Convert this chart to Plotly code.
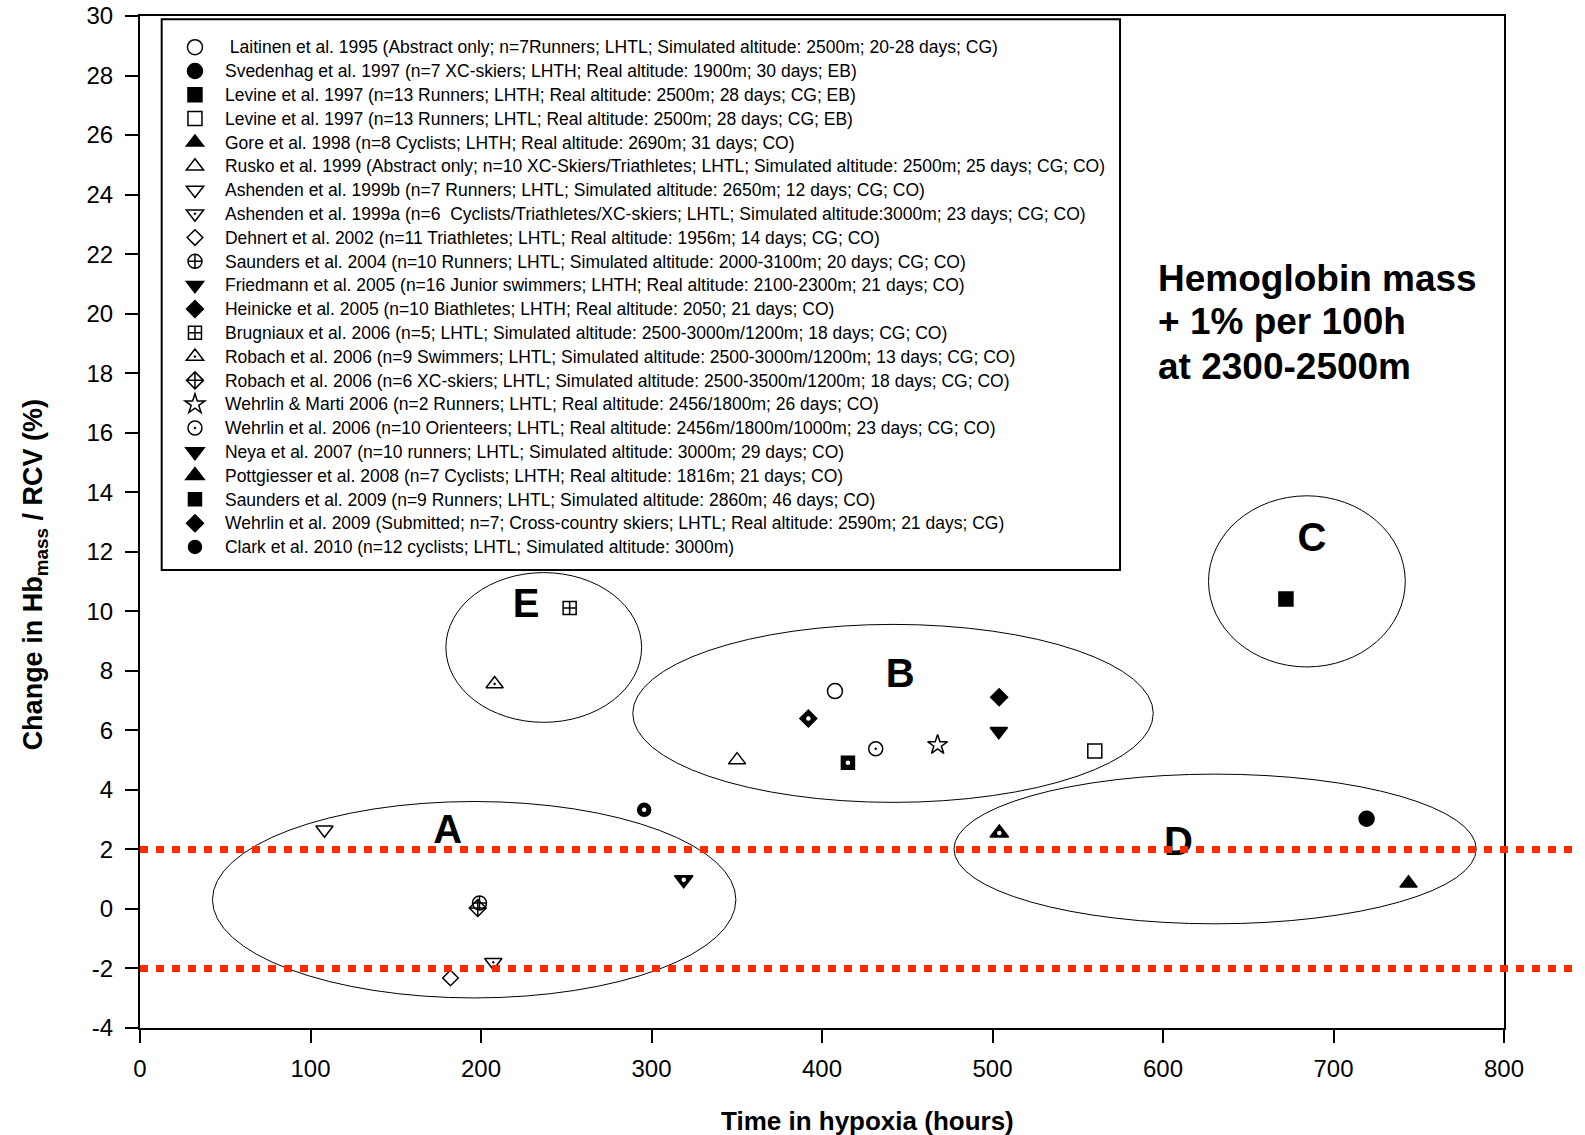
import plotly.graph_objects as go

# ---------------- data ----------------
studies = [
    "\u00a0Laitinen et al. 1995 (Abstract only; n=7Runners; LHTL; Simulated altitude: 2500m; 20-28 days; CG)",
    "Svedenhag et al. 1997 (n=7 XC-skiers; LHTH; Real altitude: 1900m; 30 days; EB)",
    "Levine et al. 1997 (n=13 Runners; LHTH; Real altitude: 2500m; 28 days; CG; EB)",
    "Levine et al. 1997 (n=13 Runners; LHTL; Real altitude: 2500m; 28 days; CG; EB)",
    "Gore et al. 1998 (n=8 Cyclists; LHTH; Real altitude: 2690m; 31 days; CO)",
    "Rusko et al. 1999 (Abstract only; n=10 XC-Skiers/Triathletes; LHTL; Simulated altitude: 2500m; 25 days; CG; CO)",
    "Ashenden et al. 1999b (n=7 Runners; LHTL; Simulated altitude: 2650m; 12 days; CG; CO)",
    "Ashenden et al. 1999a (n=6\u00a0 Cyclists/Triathletes/XC-skiers; LHTL; Simulated altitude:3000m; 23 days; CG; CO)",
    "Dehnert et al. 2002 (n=11 Triathletes; LHTL; Real altitude: 1956m; 14 days; CG; CO)",
    "Saunders et al. 2004 (n=10 Runners; LHTL; Simulated altitude: 2000-3100m; 20 days; CG; CO)",
    "Friedmann et al. 2005 (n=16 Junior swimmers; LHTH; Real altitude: 2100-2300m; 21 days; CO)",
    "Heinicke et al. 2005 (n=10 Biathletes; LHTH; Real altitude: 2050; 21 days; CO)",
    "Brugniaux et al. 2006 (n=5; LHTL; Simulated altitude: 2500-3000m/1200m; 18 days; CG; CO)",
    "Robach et al. 2006 (n=9 Swimmers; LHTL; Simulated altitude: 2500-3000m/1200m; 13 days; CG; CO)",
    "Robach et al. 2006 (n=6 XC-skiers; LHTL; Simulated altitude: 2500-3500m/1200m; 18 days; CG; CO)",
    "Wehrlin &amp; Marti 2006 (n=2 Runners; LHTL; Real altitude: 2456/1800m; 26 days; CO)",
    "Wehrlin et al. 2006 (n=10 Orienteers; LHTL; Real altitude: 2456m/1800m/1000m; 23 days; CG; CO)",
    "Neya et al. 2007 (n=10 runners; LHTL; Simulated altitude: 3000m; 29 days; CO)",
    "Pottgiesser et al. 2008 (n=7 Cyclists; LHTH; Real altitude: 1816m; 21 days; CO)",
    "Saunders et al. 2009 (n=9 Runners; LHTL; Simulated altitude: 2860m; 46 days; CO)",
    "Wehrlin et al. 2009 (Submitted; n=7; Cross-country skiers; LHTL; Real altitude: 2590m; 21 days; CG)",
    "Clark et al. 2010 (n=12 cyclists; LHTL; Simulated altitude: 3000m)",
]
hours = [407.6, 719.4, 672.1, 560.0, 744.0, 350.2, 108.2, 207.2, 182.1, 199.1, 503.7,
         503.9, 252.0, 208.0, 198.1, 467.8, 431.5, 318.9, 504.0, 415.2, 392.0, 295.7]
change = [7.32, 3.03, 10.41, 5.31, 0.86, 5.00, 2.66, -1.79, -2.32, 0.20, 5.97,
          7.11, 10.11, 7.56, 0.03, 5.51, 5.38, 0.98, 2.55, 4.91, 6.40, 3.33]

# cluster ellipses (data units)
cluster_labels = ["A", "B", "C", "D", "E"]
cluster_x0 = [42.5, 289.0, 626.7, 477.4, 179.4]
cluster_x1 = [349.5, 594.3, 742.1, 783.7, 294.2]
cluster_y0 = [-2.99, 3.58, 8.13, -0.50, 6.27]
cluster_y1 = [3.61, 9.56, 13.88, 4.53, 11.30]
label_x = [180.5, 445.8, 687.3, 609.0, 226.4]
label_y = [2.55, 7.78, 12.35, 2.16, 10.14]

rcv_limits = [2, -2]
x_ticks = [0, 100, 200, 300, 400, 500, 600, 700, 800]
y_ticks = list(range(-4, 31, 2))
y_ticktext = [str(v) for v in y_ticks]

note_lines = ["Hemoglobin mass", "+ 1% per 100h", "at 2300-2500m"]
note_y = [21.19, 19.72, 18.23]
note_x = 596.0

# ---------------- styles ----------------
symbols = ["circle-open", "circle", "square", "square-open", "triangle-up",
           "triangle-up-open", "triangle-down-open", "triangle-down-open-dot",
           "diamond-open", "circle-cross-open", "triangle-down", "diamond",
           "square-cross-open", "triangle-up-open-dot", "diamond-cross-open",
           "star-open", "circle-open-dot", "triangle-down", "triangle-up",
           "square", "diamond", "circle"]
sizes = [15, 15, 14, 14, 15, 15, 15, 15, 12, 14, 15, 13, 13, 15, 13, 15, 14,
         16, 16, 13, 13, 13]
has_white_dot = [False] * 17 + [True] * 5

FONT = "Liberation Sans, Arial, sans-serif"

W, H = 1585, 1135
ML, MT = 140.2, 16
PW, PH = 1363.5, 1012.3

fig = go.Figure()

for name, h, c, sym, sz in zip(studies, hours, change, symbols, sizes):
    fig.add_trace(go.Scatter(
        x=[h], y=[c], mode="markers",
        name='<span style="font-size:17.5px">' + name + "</span>",
        marker=dict(symbol=sym, size=sz, color="black", line=dict(color="black", width=1.5)),
        cliponaxis=False,
    ))

# small white centres of the filled "dotted" symbols
fig.add_trace(go.Scatter(
    x=[h for h, d in zip(hours, has_white_dot) if d],
    y=[c for c, d in zip(change, has_white_dot) if d],
    mode="markers", showlegend=False, hoverinfo="skip",
    marker=dict(symbol="circle", size=4.5, color="white", line=dict(width=0)),
))

# cluster letters
fig.add_trace(go.Scatter(
    x=label_x, y=label_y, mode="text",
    text=["<b>" + t + "</b>" for t in cluster_labels],
    textposition="middle center",
    textfont=dict(family=FONT, size=40, color="black"),
    showlegend=False, hoverinfo="skip",
))

shapes = []
for x0, x1, y0, y1 in zip(cluster_x0, cluster_x1, cluster_y0, cluster_y1):
    shapes.append(dict(type="circle", xref="x", yref="y", x0=x0, x1=x1, y0=y0, y1=y1,
                       line=dict(color="black", width=1), layer="below"))
for yv in rcv_limits:
    shapes.append(dict(type="line", xref="paper", yref="y", x0=0, x1=1.0516, y0=yv, y1=yv,
                       line=dict(color="#FF2A00", width=7, dash="8px,8px"), layer="above"))
# legend frame
shapes.append(dict(type="rect", xref="paper", yref="paper", x0=0.0159, x1=0.7185,
                   y0=0.4526, y1=0.9968, fillcolor="white",
                   line=dict(color="black", width=2), layer="above"))

annotations = []
for t, yv in zip(note_lines, note_y):
    annotations.append(dict(x=note_x, y=yv, xref="x", yref="y", text="<b>" + t + "</b>",
                            showarrow=False, xanchor="left", yanchor="middle",
                            font=dict(family=FONT, size=37, color="black")))
annotations.append(dict(x=0.533, y=-0.092, xref="paper", yref="paper",
                        text="<b>Time in hypoxia (hours)</b>", showarrow=False,
                        xanchor="center", yanchor="middle",
                        font=dict(family=FONT, size=26, color="black")))
annotations.append(dict(x=-0.0768, y=0.4475, xref="paper", yref="paper",
                        text="<b>Change in Hb<sub>mass</sub> / RCV (%)</b>", showarrow=False,
                        textangle=-90, xanchor="center", yanchor="middle",
                        font=dict(family=FONT, size=27, color="black")))

fig.update_layout(
    width=W, height=H,
    margin=dict(l=ML, r=W - ML - PW, t=MT, b=H - MT - PH, autoexpand=False),
    paper_bgcolor="white", plot_bgcolor="white",
    font=dict(family=FONT, color="black"),
    shapes=shapes, annotations=annotations,
    showlegend=True,
    legend=dict(x=0.0183, y=0.9859, xanchor="left", yanchor="top",
                bgcolor="rgba(0,0,0,0)", borderwidth=0,
                font=dict(family=FONT, size=16, color="black"),
                itemwidth=50, traceorder="normal"),
)
fig.update_xaxes(range=[0, 800], tickvals=x_ticks, showgrid=False, zeroline=False,
                 showline=True, linecolor="black", linewidth=2, mirror=True,
                 ticks="outside", ticklen=13, tickwidth=1.5, tickcolor="black",
                 tickfont=dict(family=FONT, size=24, color="black"),
                 ticklabelstandoff=5, automargin=False, ticklabeloverflow="allow")
fig.update_yaxes(range=[-4, 30], tickvals=y_ticks, ticktext=y_ticktext,
                 showgrid=False, zeroline=False,
                 showline=True, linecolor="black", linewidth=2, mirror=True,
                 ticks="outside", ticklen=13, tickwidth=1.5, tickcolor="black",
                 tickfont=dict(family=FONT, size=24, color="black"),
                 ticklabelstandoff=7, automargin=False, ticklabeloverflow="allow")

fig.write_html("out.html", config={"displayModeBar": False},
               post_script="document.body.style.margin='0px';document.body.style.overflow='hidden';")
